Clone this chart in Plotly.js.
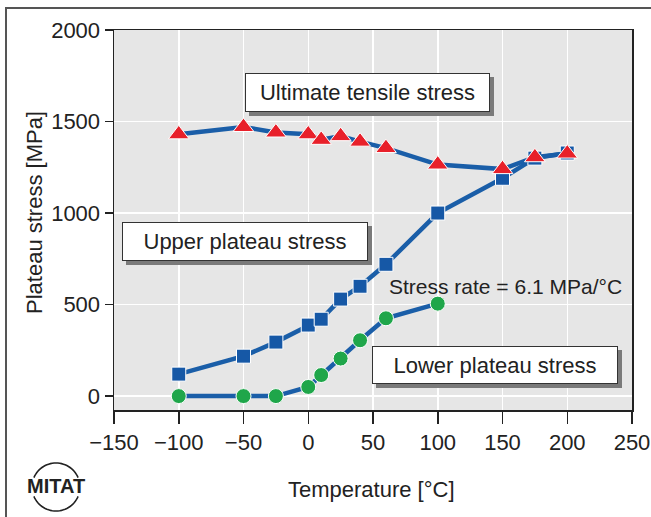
<!DOCTYPE html>
<html>
<head>
<meta charset="utf-8">
<script src="https://cdn.plot.ly/plotly-3.0.1.min.js"></script>
<style>
html,body{margin:0;padding:0;background:#fff;}
#chart{width:651px;height:517px;}
</style>
</head>
<body>
<div id="chart"></div>
<script>
// Temperatures [°C]
const temps = [-100, -50, -25, 0, 10, 25, 40, 60, 100, 150, 175, 200];
const ultimateStress = [1430, 1470, 1440, 1430, 1400, 1420, 1390, 1355, 1265, 1240, 1305, 1325];
const upperPlateau = [120, 218, 295, 388, 420, 530, 600, 720, 1000, 1190, 1300, 1328];
const lowerTemps = [-100, -50, -25, 0, 10, 25, 40, 60, 100];
const lowerPlateau = [0, 0, 0, 50, 115, 205, 305, 425, 505];

const xTicks = [-150, -100, -50, 0, 50, 100, 150, 200, 250];
const yTicks = [0, 500, 1000, 1500, 2000];

const FONT = 'Liberation Sans, Arial, Helvetica, sans-serif';
const TXT = '#222222';
const LINE = '#1a5ea8';

// plot geometry in pixels
const W = 651, H = 517;
const L = 114, R = 632, T = 30, B = 410;
const px = x => (x - L) / (R - L);
const py = y => (B - y) / (B - T);

function labelBox(text, x0, y0, x1, y1) {
  const shadow = {
    type: 'rect', xref: 'paper', yref: 'paper', layer: 'above',
    x0: px(x0 + 4), x1: px(x1 + 4), y0: py(y1 + 4), y1: py(y0 + 4),
    fillcolor: '#7a7a7a', line: {width: 0}
  };
  const ann = {
    text: text, xref: 'paper', yref: 'paper', showarrow: false,
    x: px((x0 + x1) / 2), y: py((y0 + y1) / 2), xanchor: 'center', yanchor: 'middle',
    width: (x1 - x0) - 4, height: (y1 - y0) - 4, borderpad: 1,
    bgcolor: '#ffffff', bordercolor: '#333333', borderwidth: 1,
    font: {family: FONT, size: 22, color: TXT}
  };
  return {shadow, ann};
}

const b1 = labelBox('Ultimate tensile stress', 245, 73, 490, 112);
const b2 = labelBox('Upper plateau stress', 122, 222, 368, 261);
const b3 = labelBox('Lower plateau stress', 372, 346, 618, 384);

// MITAT logo arcs
function arc(cx, cy, r, a0, a1, n) {
  let d = '';
  for (let i = 0; i <= n; i++) {
    const a = (a0 + (a1 - a0) * i / n) * Math.PI / 180;
    const x = cx + r * Math.cos(a), y = cy - r * Math.sin(a);
    d += (i === 0 ? 'M' : 'L') + px(x).toFixed(5) + ',' + py(y).toFixed(5) + ' ';
  }
  return d;
}
const logoArcTop = {type: 'path', xref: 'paper', yref: 'paper', path: arc(56, 487, 24, 157, 23, 30), line: {color: '#222', width: 1.6}};
const logoArcBot = {type: 'path', xref: 'paper', yref: 'paper', path: arc(56, 487, 24, 203, 337, 30), line: {color: '#222', width: 1.6}};

// outer frame (left + top)
const frame = {type: 'path', xref: 'paper', yref: 'paper',
  path: 'M' + px(6) + ',' + py(520) + ' L' + px(6) + ',' + py(8) + ' L' + px(660) + ',' + py(8),
  line: {color: '#555555', width: 2}};

const traces = [
  {x: lowerTemps, y: lowerPlateau, type: 'scatter', mode: 'lines+markers',
   line: {color: LINE, width: 4.5},
   marker: {symbol: 'circle', size: 15, color: '#1fa64a', line: {color: '#ffffff', width: 1}}},
  {x: temps, y: upperPlateau, type: 'scatter', mode: 'lines+markers',
   line: {color: LINE, width: 4.5},
   marker: {symbol: 'square', size: 14, color: '#1658a6', line: {color: '#ffffff', width: 1}}},
  {x: temps, y: ultimateStress, type: 'scatter', mode: 'lines+markers',
   line: {color: LINE, width: 4.5},
   marker: {symbol: 'triangle-up', size: 18, color: '#e8202a', line: {color: '#ffffff', width: 1}}}
];

const layout = {
  width: W, height: H,
  margin: {l: L, r: W - R, t: T, b: H - B, pad: 0},
  paper_bgcolor: '#ffffff', plot_bgcolor: '#e6e6e6',
  showlegend: false,
  font: {family: FONT, size: 22, color: TXT},
  xaxis: {
    range: [-150, 250], tickvals: xTicks, ticktext: xTicks.map(v => v < 0 ? '\u2212' + Math.abs(v) : String(v)),
    ticks: 'outside', ticklen: 12, tickwidth: 1.5, tickcolor: '#222',
    showline: true, mirror: true, linecolor: '#222', linewidth: 1.5,
    showgrid: true, gridcolor: '#ffffff', gridwidth: 1.5, zeroline: false,
    tickfont: {family: FONT, size: 22, color: TXT}
  },
  yaxis: {
    range: [-76, 2000], tickvals: yTicks,
    ticks: 'outside', ticklen: 8, tickwidth: 1.5, tickcolor: '#222',
    showline: true, mirror: true, linecolor: '#222', linewidth: 1.5,
    showgrid: true, gridcolor: '#ffffff', gridwidth: 1.5, zeroline: false,
    tickfont: {family: FONT, size: 22, color: TXT}
  },
  shapes: [frame, b1.shadow, b2.shadow, b3.shadow, logoArcTop, logoArcBot],
  annotations: [
    b1.ann, b2.ann, b3.ann,
    {text: 'Stress rate = 6.1 MPa/°C', xref: 'paper', yref: 'paper', showarrow: false,
     x: px(387), y: py(286), xanchor: 'left', yanchor: 'middle',
     font: {family: FONT, size: 21, color: TXT}},
    {text: 'Temperature [°C]', xref: 'paper', yref: 'paper', showarrow: false,
     x: px(371), y: py(489), xanchor: 'center', yanchor: 'middle',
     font: {family: FONT, size: 22, color: TXT}},
    {text: 'Plateau stress [MPa]', xref: 'paper', yref: 'paper', showarrow: false, textangle: -90,
     x: px(34), y: py(213), xanchor: 'center', yanchor: 'middle',
     font: {family: FONT, size: 22, color: TXT}},
    {text: '<b>MITAT</b>', xref: 'paper', yref: 'paper', showarrow: false,
     x: px(56), y: py(486), xanchor: 'center', yanchor: 'middle',
     font: {family: FONT, size: 20, color: TXT}}
  ]
};

Plotly.newPlot('chart', traces, layout, {staticPlot: true, displayModeBar: false});
</script>
</body>
</html>
